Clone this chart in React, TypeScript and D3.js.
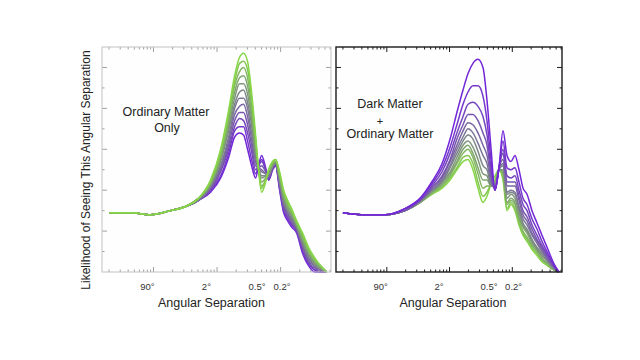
import React, { useEffect, useRef } from 'react';
import * as d3 from 'd3';

// multipole grid (l) sampled for each panel
const ordinaryL = [2, 4.3, 9, 18.5, 32, 51, 79, 114, 152, 189, 226, 261, 302, 349, 404, 450, 502, 581, 648, 749, 834, 964, 1115, 1290, 1490, 1790, 2220, 2760, 3430, 4260, 5300];
const darkL = [2, 4.5, 9.4, 19.5, 34, 52, 76, 102, 131, 164, 197, 236, 284, 341, 395, 457, 530, 614, 711, 824, 953, 1104, 1279, 1482, 1716, 2061, 2477, 2973, 3706, 4621, 5550];

// likelihood (arbitrary units), purple curve first, green curve last
const ordinaryCurves = [
  [29, 29, 28, 30, 32, 35, 39, 46, 56, 66, 68, 67, 60, 52, 46, 52, 57, 51, 45, 50, 52, 40, 29, 25, 22, 19, 9, 3, 0, 0, 0],
  [29, 29, 28, 30, 32, 35, 40, 47, 58, 69, 71, 71, 64, 55, 48, 52, 55, 50, 45, 50, 52, 41, 30, 26, 23, 20, 10, 4, 1, 0, 0],
  [29, 29, 28, 30, 32, 35, 40, 49, 60, 71, 75, 74, 68, 59, 50, 52, 54, 50, 46, 51, 53, 42, 31, 27, 24, 20, 11, 5, 1, 1, 0],
  [29, 29, 28, 30, 32, 35, 41, 50, 62, 74, 78, 78, 72, 62, 52, 51, 52, 49, 46, 51, 53, 42, 32, 28, 24, 21, 12, 5, 2, 1, 0],
  [29, 29, 28, 30, 32, 35, 41, 51, 64, 77, 81, 82, 76, 65, 54, 51, 50, 48, 47, 51, 53, 43, 33, 29, 25, 21, 13, 6, 3, 1, 0],
  [29, 29, 28, 30, 32, 35, 42, 52, 66, 80, 85, 85, 80, 68, 56, 51, 49, 48, 47, 52, 53, 44, 34, 30, 26, 22, 14, 7, 3, 1, 0],
  [29, 29, 28, 30, 32, 36, 42, 54, 69, 82, 88, 89, 83, 72, 57, 51, 47, 47, 48, 52, 54, 45, 35, 30, 27, 22, 14, 8, 4, 2, 0],
  [29, 29, 28, 30, 32, 36, 43, 55, 71, 85, 92, 92, 87, 75, 59, 51, 46, 47, 48, 52, 54, 46, 36, 31, 28, 23, 15, 9, 4, 2, 0],
  [29, 29, 28, 30, 32, 36, 43, 56, 73, 88, 95, 96, 91, 78, 61, 51, 44, 46, 49, 53, 54, 47, 37, 32, 29, 23, 16, 10, 5, 2, 0],
  [29, 29, 28, 30, 32, 36, 44, 57, 75, 91, 98, 100, 95, 81, 63, 50, 42, 45, 49, 53, 54, 47, 38, 33, 29, 24, 17, 10, 6, 3, 0],
  [29, 29, 28, 30, 32, 36, 44, 59, 77, 93, 102, 103, 99, 85, 65, 50, 41, 45, 50, 54, 55, 48, 39, 34, 30, 24, 18, 11, 6, 3, 0],
  [29, 29, 28, 30, 32, 36, 45, 60, 79, 96, 105, 107, 103, 88, 67, 50, 39, 44, 50, 54, 55, 49, 40, 35, 31, 25, 19, 12, 7, 3, 0],
];

const darkCurves = [
  [29, 28, 28, 31, 36, 44, 53, 65, 78, 89, 97, 102, 104, 100, 84, 61, 40, 51, 69, 57, 54, 57, 50, 41, 38, 30, 24, 18, 11, 4, 0],
  [29, 28, 28, 31, 36, 43, 51, 61, 72, 82, 88, 91, 91, 86, 74, 55, 40, 51, 64, 51, 50, 51, 44, 36, 33, 26, 21, 15, 9, 3, 0],
  [29, 28, 28, 31, 35, 42, 49, 58, 68, 76, 82, 83, 81, 76, 67, 51, 40, 51, 60, 47, 46, 47, 40, 33, 30, 23, 18, 13, 8, 3, 0],
  [29, 28, 28, 30, 35, 41, 47, 55, 65, 72, 77, 77, 74, 68, 62, 48, 40, 51, 58, 44, 44, 44, 37, 30, 27, 21, 16, 12, 7, 3, 0],
  [29, 28, 28, 30, 35, 41, 46, 54, 62, 69, 73, 72, 68, 62, 57, 46, 41, 51, 55, 42, 42, 42, 35, 28, 25, 19, 15, 11, 6, 2, 0],
  [29, 28, 28, 30, 35, 40, 45, 52, 60, 66, 70, 68, 63, 57, 53, 44, 41, 50, 53, 39, 40, 39, 32, 26, 23, 18, 14, 10, 6, 2, 0],
  [29, 28, 28, 30, 35, 40, 44, 51, 58, 64, 67, 65, 59, 52, 50, 43, 42, 50, 52, 38, 39, 38, 31, 24, 21, 16, 12, 9, 5, 2, 0],
  [29, 28, 28, 30, 34, 39, 44, 49, 56, 62, 64, 61, 55, 48, 47, 42, 42, 50, 50, 36, 38, 36, 29, 23, 20, 15, 11, 8, 5, 2, 0],
  [29, 28, 28, 30, 34, 39, 43, 48, 54, 60, 62, 58, 51, 45, 45, 42, 43, 50, 49, 34, 36, 34, 27, 22, 19, 14, 11, 7, 4, 1, 0],
  [29, 28, 28, 30, 34, 39, 42, 47, 53, 58, 60, 56, 48, 41, 42, 42, 44, 50, 48, 33, 35, 33, 26, 20, 17, 13, 10, 6, 4, 1, 0],
  [29, 28, 28, 30, 34, 38, 42, 46, 51, 56, 57, 53, 44, 37, 39, 43, 45, 50, 46, 31, 34, 31, 24, 19, 16, 12, 9, 6, 3, 1, 0],
  [29, 28, 28, 30, 34, 38, 41, 45, 50, 54, 55, 50, 41, 34, 37, 43, 47, 50, 45, 30, 33, 30, 23, 18, 15, 11, 8, 5, 3, 1, 0],
];

const tickL = [8, 68, 425, 1050];
const tickLabels = ['90°', '2°', '0.5°', '0.2°'];

const FONT = '"Liberation Sans", Arial, Helvetica, sans-serif';
const TOP = 47;
const BOTTOM = 272;

const panels = [
  {
    left: 102, right: 331, frame: '#c2c2c2', tick: '#a0a0a0', frameWidth: 1,
    ls: ordinaryL, curves: ordinaryCurves, greenOnTop: true,
    notes: [{ t: 'Ordinary Matter', x: 166, y: 116 }, { t: 'Only', x: 167, y: 132 }],
  },
  {
    left: 336, right: 562, frame: '#1a1a1a', tick: '#1a1a1a', frameWidth: 1.4,
    ls: darkL, curves: darkCurves, greenOnTop: false,
    notes: [{ t: 'Dark Matter', x: 390, y: 108 }, { t: '+', x: 380, y: 125 }, { t: 'Ordinary Matter', x: 390, y: 138 }],
  },
];

const App: React.FC = () => {
  const svgRef = useRef<SVGSVGElement>(null);

  useEffect(() => {
    if (!svgRef.current) return;
    const svg = d3.select(svgRef.current);
    svg.selectAll('*').remove();

    const y = d3.scaleLinear().domain([0, 110]).range([BOTTOM, TOP]);
    const color = d3.interpolateRgb('#7326d8', '#86d646');

    panels.forEach(p => {
      const x = d3.scaleLog().domain([1.55, 6200]).range([p.left, p.right]);
      const g = svg.append('g');

      g.append('rect')
        .attr('x', p.left).attr('y', TOP)
        .attr('width', p.right - p.left).attr('height', BOTTOM - TOP)
        .attr('fill', '#fdfefd');

      // curves
      const line = d3.line<number>()
        .x((_, i) => x(p.ls[i]))
        .y(d => y(d))
        .curve(d3.curveMonotoneX);

      const n = p.curves.length;
      const order = p.greenOnTop ? d3.range(n) : d3.range(n).reverse();
      order.forEach(c => {
        g.append('path')
          .attr('d', line(p.curves[c]) as string)
          .attr('fill', 'none')
          .attr('stroke', color(c / (n - 1)))
          .attr('stroke-width', 1.5);
      });

      // ticks (inward, on all four sides)
      const xt = x.ticks();
      xt.forEach(v => {
        const major = Math.abs(Math.log10(v) - Math.round(Math.log10(v))) < 1e-9;
        const len = major ? 5 : 2.5;
        const px = x(v);
        g.append('line').attr('x1', px).attr('x2', px).attr('y1', BOTTOM).attr('y2', BOTTOM - len)
          .attr('stroke', p.tick).attr('stroke-width', 1);
        g.append('line').attr('x1', px).attr('x2', px).attr('y1', TOP).attr('y2', TOP + len)
          .attr('stroke', p.tick).attr('stroke-width', 1);
      });
      d3.range(10, 110, 10).forEach(v => {
        const len = v % 20 === 0 ? 5 : 2.5;
        const py = y(v);
        g.append('line').attr('x1', p.left).attr('x2', p.left + len).attr('y1', py).attr('y2', py)
          .attr('stroke', p.tick).attr('stroke-width', 1);
        g.append('line').attr('x1', p.right).attr('x2', p.right - len).attr('y1', py).attr('y2', py)
          .attr('stroke', p.tick).attr('stroke-width', 1);
      });

      g.append('rect')
        .attr('x', p.left).attr('y', TOP)
        .attr('width', p.right - p.left).attr('height', BOTTOM - TOP)
        .attr('fill', 'none').attr('stroke', p.frame).attr('stroke-width', p.frameWidth);

      // tick labels
      tickL.forEach((v, i) => {
        g.append('text')
          .attr('x', x(v)).attr('y', 290)
          .attr('text-anchor', 'middle')
          .attr('font-family', FONT).attr('font-size', 9.5)
          .attr('fill', '#333')
          .text(tickLabels[i]);
      });

      g.append('text')
        .attr('x', (p.left + p.right) / 2 + (p.greenOnTop ? -5 : 4)).attr('y', 307)
        .attr('text-anchor', 'middle')
        .attr('font-family', FONT).attr('font-size', 12.5)
        .attr('fill', '#222')
        .text('Angular Separation');

      p.notes.forEach(nt => {
        g.append('text')
          .attr('x', nt.x).attr('y', nt.y)
          .attr('text-anchor', 'middle')
          .attr('font-family', FONT).attr('font-size', nt.t === '+' ? 11 : 12.5)
          .attr('fill', '#222')
          .text(nt.t);
      });
    });

    svg.append('text')
      .attr('transform', 'translate(90,170) rotate(-90)')
      .attr('text-anchor', 'middle')
      .attr('font-family', FONT).attr('font-size', 12)
      .attr('fill', '#222')
      .text('Likelihood of Seeing This Angular Separation');
  }, []);

  return (
    <svg
      ref={svgRef}
      width={640}
      height={360}
      style={{ position: 'absolute', left: 0, top: 0, background: '#fff' }}
    />
  );
};

export default App;
